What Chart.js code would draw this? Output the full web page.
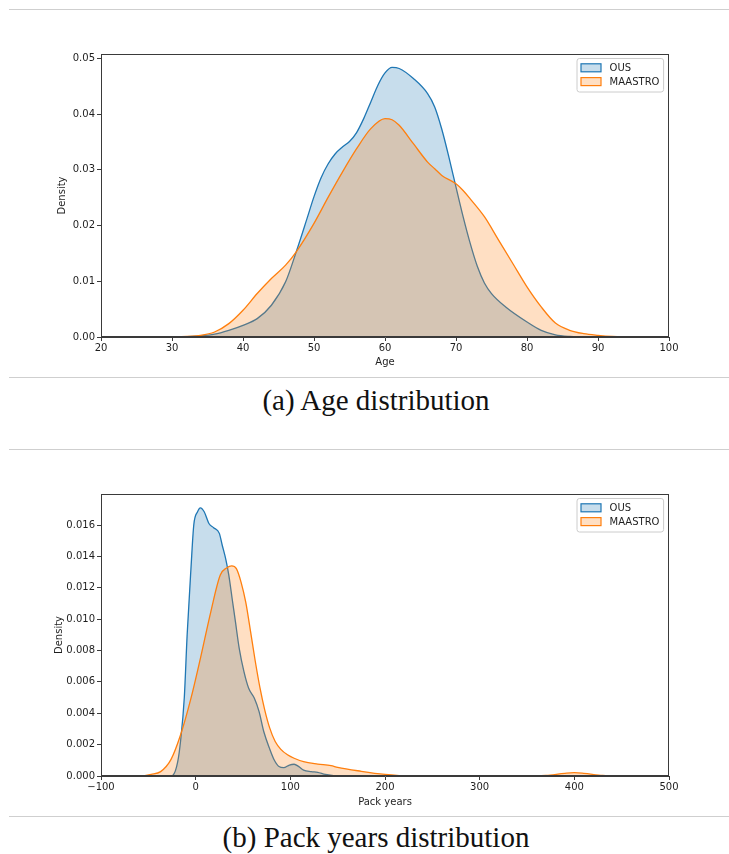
<!DOCTYPE html>
<html>
<head>
<meta charset="utf-8">
<script src="https://cdn.jsdelivr.net/npm/chart.js@4.4.1/dist/chart.umd.min.js"></script>
<style>
  html, body { margin: 0; padding: 0; background: #fff; width: 729px; height: 854px; overflow: hidden; }
  .rule { position: absolute; left: 9px; width: 720px; height: 1px; background: #cfcfcf; }
  .panel { position: absolute; left: 0; }
  .panel canvas { display: block; }
  .cap { position: absolute; left: 0; width: 752px; text-align: center;
         font-family: "Liberation Serif", "DejaVu Serif", serif; font-size: 29px;
         line-height: 1; color: #111; white-space: nowrap; }
</style>
</head>
<body>
<div class="rule" style="top:9px"></div>
<div class="panel" style="top:20px"><canvas id="ageChart" width="729" height="350"></canvas></div>
<div class="rule" style="top:377px"></div>
<div class="cap" style="top:386px">(a) Age distribution</div>
<div class="rule" style="top:449px"></div>
<div class="panel" style="top:460px"><canvas id="packChart" width="729" height="350"></canvas></div>
<div class="rule" style="top:816px"></div>
<div class="cap" style="top:823px">(b) Pack years distribution</div>

<script>
// ---- data -------------------------------------------------------------
const seriesNames = ['OUS', 'MAASTRO'];

// Age (years) kernel density estimates
const ageOusX = [30, 34, 36, 38, 40, 42, 44, 46, 47.5, 49, 50, 51, 52, 53, 54, 55, 56, 57, 58, 59, 60, 61, 62, 64, 66, 67, 68, 69, 70, 71, 72, 73, 74, 75, 77, 80, 82, 84, 86, 88];
const ageOusDensity = [0, 0.0002, 0.0005, 0.0012, 0.0021, 0.0033, 0.0057, 0.0099, 0.0153, 0.0212, 0.0252, 0.0286, 0.0311, 0.0329, 0.0341, 0.0351, 0.0367, 0.0392, 0.0422, 0.0452, 0.0474, 0.0484, 0.0482, 0.0464, 0.0437, 0.0413, 0.0373, 0.0323, 0.0269, 0.0216, 0.0168, 0.0127, 0.0097, 0.0078, 0.0054, 0.0027, 0.0012, 0.0004, 0.0001, 0];
const ageMaastroX = [30, 34, 36, 38, 40, 42, 44, 46, 47.5, 50, 52, 54, 56, 58, 60, 61, 62, 64, 66, 67, 68, 70, 71, 72, 74, 76, 78, 80, 82, 84, 86, 88, 90, 92, 94.5];
const ageMaastroDensity = [0, 0.0003, 0.0009, 0.0024, 0.0048, 0.0078, 0.0105, 0.0129, 0.0153, 0.0204, 0.0251, 0.0296, 0.0338, 0.0374, 0.0392, 0.039, 0.038, 0.0347, 0.0314, 0.0302, 0.029, 0.0275, 0.0263, 0.0248, 0.0216, 0.0174, 0.0132, 0.009, 0.0054, 0.0025, 0.0012, 0.0006, 0.0003, 0.0001, 0];

// Pack years kernel density estimates
const packOusX = [-27, -24, -19, -16, -12, -9, -5, -2, 2, 5, 9, 14, 19, 25, 28, 32, 35, 39, 42, 46, 51, 56, 62, 67, 72, 78, 83, 88, 93, 99, 104, 109, 114, 122, 129, 137, 150];
const packOusDensity = [0, 0.00005, 0.0009, 0.0022, 0.005, 0.009, 0.0132, 0.016, 0.01685, 0.0171, 0.01685, 0.0161, 0.01583, 0.01547, 0.01473, 0.01377, 0.01281, 0.01111, 0.00984, 0.00814, 0.00665, 0.00559, 0.00495, 0.0041, 0.00282, 0.00176, 0.00102, 0.0006, 0.00053, 0.0007, 0.00075, 0.0006, 0.00038, 0.00028, 0.00023, 0.0001, 0];
const packMaastroX = [-57, -47, -37, -26, -16, -5, 5, 16, 26, 33, 38, 43, 48, 53, 58, 63, 68, 73, 78, 84, 90, 97, 104, 114, 129, 143, 150, 175, 200, 215, 230, 350, 370, 390, 400, 410, 430, 455];
const packMaastroDensity = [0, 0.0001, 0.00028, 0.00106, 0.00261, 0.00495, 0.0075, 0.01047, 0.01281, 0.01328, 0.0134, 0.01322, 0.01235, 0.01105, 0.0092, 0.0073, 0.0056, 0.0042, 0.0031, 0.0022, 0.0017, 0.00135, 0.00113, 0.00091, 0.00076, 0.00066, 0.00055, 0.0003, 0.0001, 0.00003, 0, 0, 0.00004, 0.00017, 0.00021, 0.00017, 0.00004, 0];

// Tick labels
const ageXTicks = [20, 30, 40, 50, 60, 70, 80, 90, 100];
const ageYTicks = [0, 0.01, 0.02, 0.03, 0.04, 0.05];
const packXTicks = [-100, 0, 100, 200, 300, 400, 500];
const packYTicks = [0, 0.002, 0.004, 0.006, 0.008, 0.010, 0.012, 0.014, 0.016];

// ---- styling ----------------------------------------------------------
const lineColors = ['#1f77b4', '#ff7f0e'];
const fillColors = ['rgba(31,119,180,0.25)', 'rgba(255,127,14,0.25)'];
const axisColor = '#3a3a3a';
const textColor = '#1e1e1e';

Chart.defaults.font.family = '"DejaVu Sans", sans-serif';
Chart.defaults.font.size = 10;
Chart.defaults.color = textColor;

const toPoints = (xs, ys) => xs.map((x, i) => ({ x: x, y: ys[i] }));

// Closed box around the plotting area, drawn over the curves
const framePlugin = {
  id: 'frame',
  afterDatasetsDraw(chart) {
    const { ctx, chartArea: a } = chart;
    ctx.save();
    ctx.strokeStyle = axisColor;
    ctx.lineWidth = 1;
    const l = Math.round(a.left) + 0.5, t = Math.round(a.top) + 0.5;
    const r = Math.round(a.right) - 0.5, b = Math.round(a.bottom) - 0.5;
    ctx.strokeRect(l, t, r - l, b - t);
    ctx.restore();
  }
};

// Legend box placed inside the upper right corner of the plotting area
const cornerLegend = {
  id: 'cornerLegend',
  afterDraw(chart) {
    const { ctx, chartArea: a } = chart;
    const w = 86.6, h = 33.5;
    const x0 = a.right - 5.4 - w, y0 = a.top + 4.5, rad = 2.5;
    ctx.save();
    ctx.beginPath();
    ctx.moveTo(x0 + rad, y0);
    ctx.arcTo(x0 + w, y0, x0 + w, y0 + h, rad);
    ctx.arcTo(x0 + w, y0 + h, x0, y0 + h, rad);
    ctx.arcTo(x0, y0 + h, x0, y0, rad);
    ctx.arcTo(x0, y0, x0 + w, y0, rad);
    ctx.closePath();
    ctx.fillStyle = 'rgba(255,255,255,0.8)';
    ctx.fill();
    ctx.strokeStyle = '#cccccc';
    ctx.lineWidth = 1;
    ctx.stroke();
    chart.data.datasets.forEach((ds, i) => {
      const cy = a.top + 13.8 + i * 13.8;
      ctx.fillStyle = ds.backgroundColor;
      ctx.fillRect(x0 + 4, cy - 4, 20, 8);
      ctx.strokeStyle = ds.borderColor;
      ctx.lineWidth = 1.2;
      ctx.strokeRect(x0 + 4, cy - 4, 20, 8);
      ctx.fillStyle = textColor;
      ctx.font = '10px "DejaVu Sans", sans-serif';
      ctx.textBaseline = 'middle';
      ctx.textAlign = 'left';
      ctx.fillText(ds.label, x0 + 32.6, cy + 0.5);
    });
    ctx.restore();
  }
};

function densityChart(id, cfg) {
  const datasets = cfg.series.map((s, i) => ({
    label: seriesNames[i],
    data: toPoints(s[0], s[1]),
    borderColor: lineColors[i],
    backgroundColor: fillColors[i],
    borderWidth: 1.3,
    fill: 'origin',
    pointRadius: 0,
    pointHoverRadius: 0,
    cubicInterpolationMode: 'monotone',
    order: cfg.series.length - i   // later series is painted on top
  }));

  const axisCommon = {
    type: 'linear',
    grid: { display: true, drawOnChartArea: false, drawTicks: true, tickLength: 4, color: axisColor, lineWidth: 1 },
    border: { display: true, color: axisColor, width: 1 },
  };

  return new Chart(document.getElementById(id), {
    type: 'line',
    data: { datasets },
    options: {
      responsive: false,
      animation: false,
      devicePixelRatio: 1,
      events: [],
      layout: { padding: { top: 34, right: 60, bottom: 0, left: 0 } },
      plugins: { legend: { display: false }, tooltip: { enabled: false } },
      scales: {
        x: Object.assign({}, axisCommon, {
          min: cfg.xRange[0], max: cfg.xRange[1],
          afterBuildTicks: s => { s.ticks = cfg.xTicks.map(v => ({ value: v })); },
          afterFit: s => { s.height = cfg.xAxisHeight; },
          ticks: { padding: 1, maxRotation: 0, autoSkip: false, color: textColor,
                   callback: v => String(v).replace('-', '\u2212') },
          title: { display: true, text: cfg.xTitle, color: textColor, padding: { top: 0, bottom: 2 } }
        }),
        y: Object.assign({}, axisCommon, {
          min: 0, max: cfg.yMax,
          afterBuildTicks: s => { s.ticks = cfg.yTicks.map(v => ({ value: v })); },
          afterFit: s => { s.width = 101; },
          ticks: { padding: 2, color: textColor, callback: v => v.toFixed(cfg.yDecimals) },
          title: { display: true, text: 'Density', color: textColor, padding: { top: cfg.yTitlePad, bottom: 0 } }
        })
      }
    },
    plugins: [framePlugin, cornerLegend]
  });
}

densityChart('ageChart', {
  series: [[ageOusX, ageOusDensity], [ageMaastroX, ageMaastroDensity]],
  xRange: [20, 100], xTicks: ageXTicks, xTitle: 'Age', xAxisHeight: 33,
  yMax: 0.0508, yTicks: ageYTicks, yDecimals: 2, yTitlePad: 56
});

densityChart('packChart', {
  series: [[packOusX, packOusDensity], [packMaastroX, packMaastroDensity]],
  xRange: [-100, 500], xTicks: packXTicks, xTitle: 'Pack years', xAxisHeight: 34,
  yMax: 0.01798, yTicks: packYTicks, yDecimals: 3, yTitlePad: 53
});
</script>
</body>
</html>
